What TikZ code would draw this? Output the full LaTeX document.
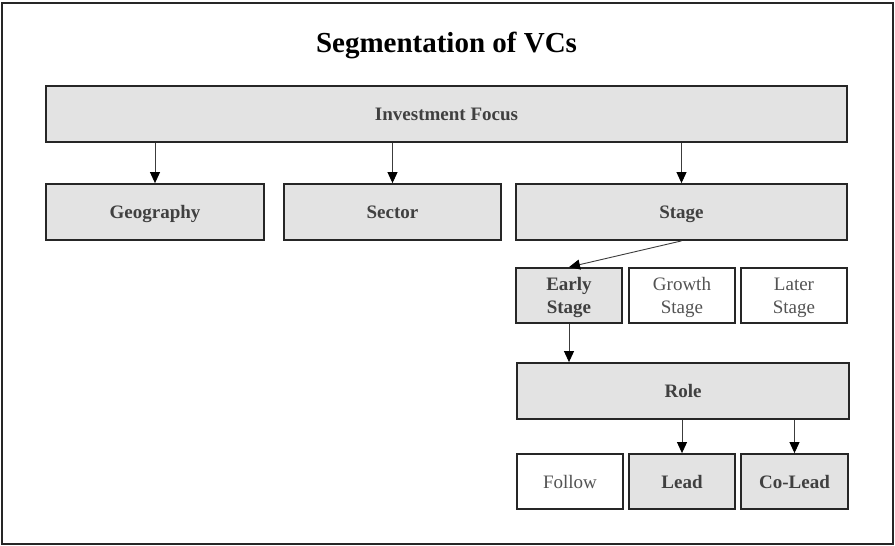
\documentclass[tikz,border=0pt]{standalone}
\usepackage{fontspec}
\setmainfont{Liberation Serif}
\usetikzlibrary{arrows.meta}
\definecolor{boxfill}{HTML}{E3E3E3}
\definecolor{edgecol}{HTML}{262626}
\definecolor{txtcol}{HTML}{404040}
\begin{document}
\begin{tikzpicture}[x=1pt,y=-1pt,
  box/.style={draw=edgecol,line width=1.8pt,fill=boxfill,inner sep=0pt,
    font=\fontsize{19}{23}\selectfont\bfseries,text=txtcol,align=center,text depth=0pt},
  plainbox/.style={box,fill=white,font=\fontsize{19}{23}\selectfont,text=txtcol!90},
  link/.style={draw=edgecol!90,line width=0.9pt,-{Triangle[length=11pt,width=10pt,color=black]}}]
  \useasboundingbox (0,0) rectangle (895,546);
  % outer frame
  \draw[edgecol,line width=2pt] (1.5,2.5) rectangle (893,544);
  % title
  \node[font=\fontsize{29}{34}\selectfont\bfseries] (title) at (446.5,45) {Segmentation of VCs};
  % top level
  \node[box,minimum width=801,minimum height=56] (inv) at (446.5,114) {Investment Focus};
  % second level
  \node[box,minimum width=218,minimum height=56] (geo) at (155,212) {Geography};
  \node[box,minimum width=217,minimum height=56] (sec) at (392.5,212) {Sector};
  \node[box,minimum width=331,minimum height=56] (stage) at (681.5,212) {Stage};
  % stages
  \node[box,minimum width=106,minimum height=55] (early) at (569,295.5) {Early\\Stage};
  \node[plainbox,minimum width=106,minimum height=55] (growth) at (682,295.5) {Growth\\Stage};
  \node[plainbox,minimum width=106,minimum height=55] (later) at (794,295.5) {Later\\Stage};
  % role
  \node[box,minimum width=332,minimum height=56] (role) at (683,391) {Role};
  \node[plainbox,minimum width=106,minimum height=55] (follow) at (570,481.5) {Follow};
  \node[box,minimum width=106,minimum height=55] (lead) at (682,481.5) {Lead};
  \node[box,minimum width=107,minimum height=55] (colead) at (794.5,481.5) {Co-Lead};
  % connectors
  \draw[link] (inv.south -| geo.north) -- (geo.north);
  \draw[link] (inv.south -| sec.north) -- (sec.north);
  \draw[link] (inv.south -| stage.north) -- (stage.north);
  \draw[link] (stage.south) -- (early.north);
  \draw[link] (early.south) -- (early.south |- role.north);
  \draw[link] (role.south -| lead.north) -- (lead.north);
  \draw[link] (role.south -| colead.north) -- (colead.north);
\end{tikzpicture}
\end{document}
